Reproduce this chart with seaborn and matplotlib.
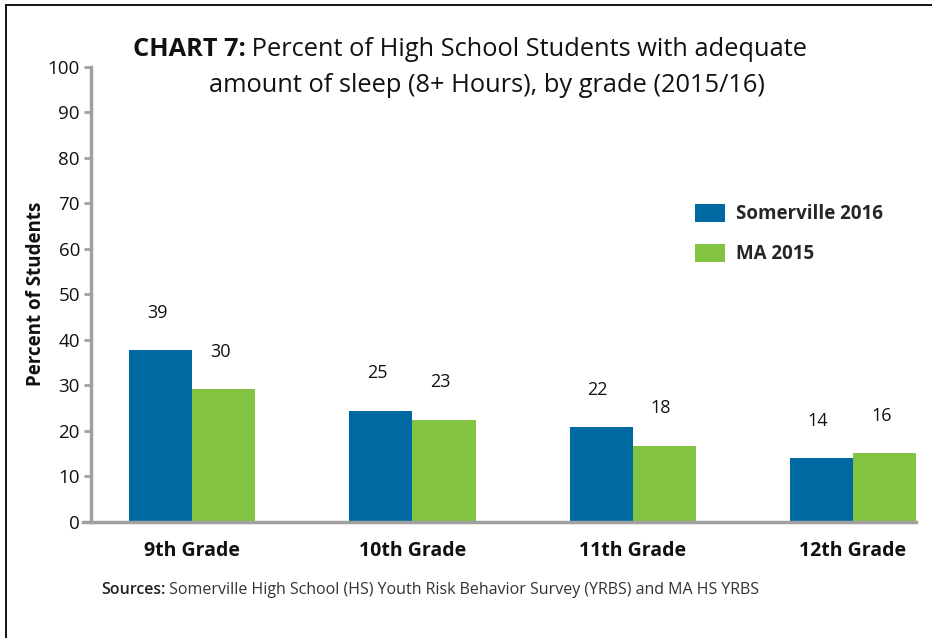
import matplotlib
matplotlib.use("Agg")
import matplotlib.pyplot as plt
import seaborn as sns
import pandas as pd
from matplotlib.lines import Line2D
from matplotlib.patches import Patch

grades = ["9th Grade", "10th Grade", "11th Grade", "12th Grade"]
series = ["Somerville 2016", "MA 2015"]
somerville_bar = [37.7, 24.4, 20.7, 13.9]
ma_bar = [29.1, 22.4, 16.7, 15.0]
somerville_labels = ["39", "25", "22", "14"]
ma_labels = ["30", "23", "18", "16"]
yticks = list(range(0, 101, 10))
colors = ["#0069a1", "#82c341"]

df = pd.DataFrame({
    "grade": grades * 2,
    "series": [series[0]] * 4 + [series[1]] * 4,
    "value": somerville_bar + ma_bar,
})

sns.set_theme(style="white")
plt.rcParams["font.family"] = ["Open Sans", "DejaVu Sans"]

fig = plt.figure(figsize=(9.32, 6.38), dpi=100)
ax = fig.add_axes([91 / 932, 1 - 521.7 / 638, (916 - 91) / 932, (521.7 - 66.5) / 638])

sns.barplot(data=df, x="grade", y="value", hue="series", order=grades,
            hue_order=series, palette=colors, width=0.573, saturation=1,
            ax=ax, legend=False, errorbar=None, linewidth=0)

ax.set_xlim(-0.459, 3.286)
ax.set_ylim(0, 100)
ax.set_yticks(yticks)
ax.set_yticklabels([str(t) for t in yticks], fontsize=13.5, color="#111111")
ax.tick_params(axis="y", length=5, width=2, color="#a0a0a0", pad=3, left=True)
ax.tick_params(axis="x", length=0, pad=14)
for lbl in ax.get_xticklabels():
    lbl.set_fontweight("bold")
    lbl.set_fontsize(14)
    lbl.set_color("#111111")
ax.set_xlabel("")
ax.set_ylabel("Percent of Students", fontsize=13.5, fontweight="bold", color="#111111", labelpad=1)
for side in ["top", "right"]:
    ax.spines[side].set_visible(False)
for side in ["left", "bottom"]:
    ax.spines[side].set_color("#a0a0a0")
    ax.spines[side].set_linewidth(2.5)
ax.spines["bottom"].set_bounds(-0.459 - 8 / 220, 3.286)
ax.spines["bottom"].set_clip_on(False)

# data labels
label_sets = [somerville_labels, ma_labels]
for container, labs in zip(ax.containers, label_sets):
    for bar, lab in zip(container, labs):
        ax.annotate(lab, (bar.get_x() + bar.get_width() / 2 - 0.015, bar.get_height()),
                    xytext=(0, 27), textcoords="offset points", ha="center", va="center",
                    fontsize=13, color="#111111")

# legend
handles = [Patch(facecolor=c, edgecolor="none") for c in colors]
leg = fig.legend(handles, series, loc="upper left", bbox_to_anchor=(678 / 932, 1 - 187 / 638),
                 frameon=False, prop={"weight": "bold", "size": 13.5},
                 handlelength=1.6, handleheight=1.1, handletextpad=0.6, labelspacing=1.05)

# title
fig.canvas.draw()
r = fig.canvas.get_renderer()
t_bold = fig.text(0, 1 - 50 / 638, "CHART 7:", fontsize=18.3, fontweight="bold", va="center", ha="left", color="#111111")
t_reg = fig.text(0, 1 - 50 / 638, " Percent of High School Students with adequate", fontsize=18.3,
                 va="center", ha="left", color="#111111")
wb = t_bold.get_window_extent(r).width
wr = t_reg.get_window_extent(r).width
total = wb + wr
cx = 470
x0 = cx - total / 2
t_bold.set_x(x0 / 932)
t_reg.set_x((x0 + wb) / 932)
fig.text(487 / 932, 1 - 85 / 638, "amount of sleep (8+ Hours), by grade (2015/16)", fontsize=18.3,
         ha="center", va="center", color="#111111")

# sources
s_bold = fig.text(101 / 932, 1 - 590 / 638, "Sources:", fontsize=11.5, fontweight="semibold", va="center", ha="left", color="#222222")
wsb = s_bold.get_window_extent(r).width
fig.text((101 + wsb) / 932, 1 - 590 / 638, " Somerville High School (HS) Youth Risk Behavior Survey (YRBS) and MA HS YRBS",
         fontsize=11.5, va="center", ha="left", color="#333333")

# border (top and left)
fig.add_artist(Line2D([6 / 932, 1], [1 - 5 / 638, 1 - 5 / 638], transform=fig.transFigure, color="black", lw=1.3))
fig.add_artist(Line2D([6 / 932, 6 / 932], [0, 1 - 5 / 638], transform=fig.transFigure, color="black", lw=1.3))

fig.savefig("out.png", dpi=100)
